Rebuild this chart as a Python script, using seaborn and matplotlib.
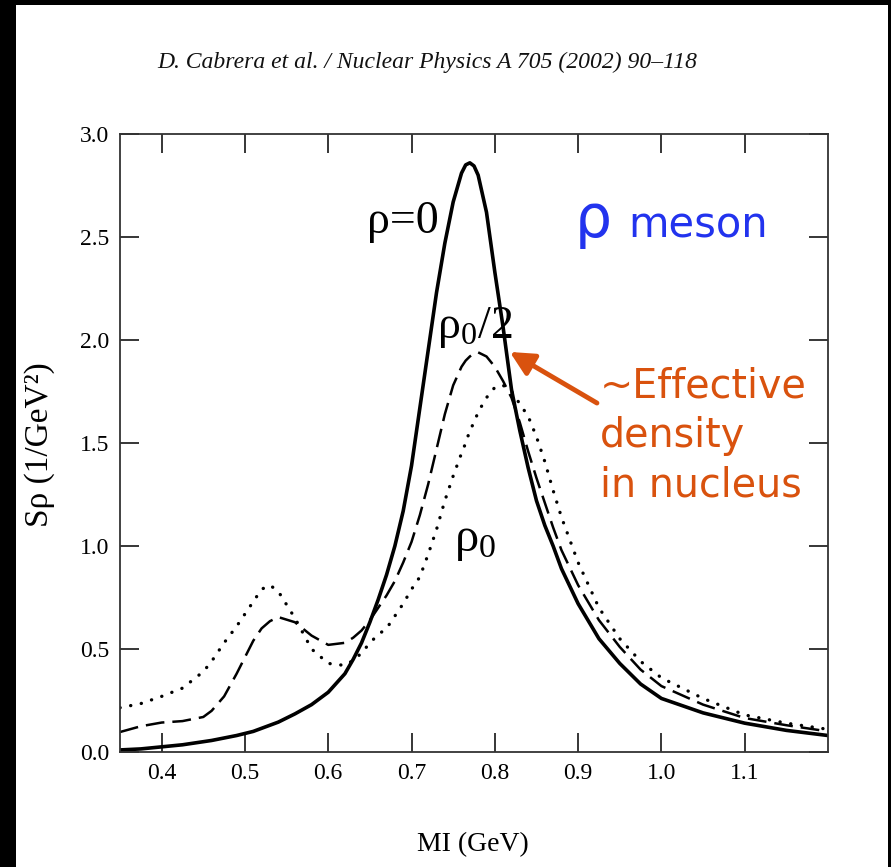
import numpy as np
import pandas as pd
import matplotlib
matplotlib.use("Agg")
import matplotlib.pyplot as plt
import seaborn as sns
from matplotlib.patches import Rectangle

# ---- data ----
mass = [0.35, 0.375, 0.40, 0.425, 0.45, 0.46, 0.475, 0.49, 0.50, 0.51, 0.52, 0.53,
        0.54, 0.56, 0.58, 0.60, 0.62, 0.63, 0.64, 0.65, 0.66, 0.67, 0.68, 0.69, 0.70,
        0.71, 0.72, 0.73, 0.74, 0.75, 0.76, 0.765, 0.77, 0.775, 0.78, 0.79, 0.80,
        0.81, 0.82, 0.83, 0.84, 0.85, 0.86, 0.87, 0.88, 0.90, 0.925, 0.95, 0.975,
        1.00, 1.05, 1.10, 1.15, 1.20]

# rho = 0 (solid)
spec_vacuum = [0.010, 0.015, 0.025, 0.035, 0.050, 0.056, 0.068, 0.080, 0.090, 0.100,
               0.115, 0.130, 0.145, 0.185, 0.230, 0.290, 0.380, 0.450, 0.530, 0.630,
               0.740, 0.860, 1.000, 1.170, 1.390, 1.670, 1.950, 2.230, 2.470, 2.670,
               2.810, 2.850, 2.860, 2.845, 2.800, 2.620, 2.330, 2.060, 1.760, 1.560,
               1.380, 1.220, 1.100, 1.000, 0.890, 0.720, 0.550, 0.430, 0.330, 0.260,
               0.190, 0.140, 0.105, 0.080]

# rho0 / 2 (dashed)
spec_half = [0.097, 0.125, 0.143, 0.150, 0.170, 0.200, 0.270, 0.380, 0.460, 0.540,
             0.600, 0.635, 0.655, 0.630, 0.565, 0.520, 0.530, 0.555, 0.590, 0.640,
             0.700, 0.760, 0.830, 0.920, 1.020, 1.150, 1.300, 1.470, 1.640, 1.780,
             1.870, 1.900, 1.920, 1.935, 1.940, 1.920, 1.870, 1.800, 1.720, 1.600,
             1.460, 1.330, 1.210, 1.090, 0.980, 0.810, 0.640, 0.510, 0.400, 0.320,
             0.230, 0.165, 0.130, 0.100]

# rho0 (dotted)
spec_full = [0.215, 0.235, 0.270, 0.310, 0.390, 0.440, 0.530, 0.610, 0.670, 0.730,
             0.790, 0.810, 0.780, 0.650, 0.500, 0.430, 0.420, 0.445, 0.480, 0.530,
             0.570, 0.600, 0.660, 0.720, 0.790, 0.850, 0.960, 1.080, 1.220, 1.340,
             1.450, 1.500, 1.560, 1.600, 1.650, 1.720, 1.770, 1.780, 1.750, 1.690,
             1.630, 1.530, 1.410, 1.270, 1.140, 0.920, 0.700, 0.550, 0.440, 0.360,
             0.260, 0.180, 0.140, 0.110]

x_ticks = [0.4, 0.5, 0.6, 0.7, 0.8, 0.9, 1.0, 1.1]
x_ticklabels = ["0.4", "0.5", "0.6", "0.7", "0.8", "0.9", "1.0", "1.1"]
y_ticks = [0.0, 0.5, 1.0, 1.5, 2.0, 2.5, 3.0]
y_ticklabels = ["0.0", "0.5", "1.0", "1.5", "2.0", "2.5", "3.0"]

df = pd.DataFrame({"m": mass, "vac": spec_vacuum, "half": spec_half, "full": spec_full})

# ---- figure ----
sns.set_theme(style="white")
plt.rcParams["font.family"] = ["Liberation Serif", "DejaVu Serif"]
plt.rcParams["mathtext.fontset"] = "custom"
plt.rcParams["mathtext.rm"] = "Liberation Serif"
plt.rcParams["mathtext.it"] = "Liberation Serif:italic"
plt.rcParams["text.color"] = "black"
plt.rcParams["axes.labelcolor"] = "black"

W, H = 891, 867
fig = plt.figure(figsize=(W / 100, H / 100), dpi=100, facecolor="black")
fig.patches.append(Rectangle((16 / W, 0), (888 - 16) / W, (H - 5) / H,
                             transform=fig.transFigure, facecolor="white",
                             edgecolor="none", zorder=-10))

ax = fig.add_axes([120 / W, 1 - 752 / H, (828 - 120) / W, (752 - 134) / H])
ax.set_facecolor("white")
ax.set_zorder(5)

sns.lineplot(data=df, x="m", y="vac", ax=ax, color="black", lw=2.6, sort=False)
sns.lineplot(data=df, x="m", y="half", ax=ax, color="black", lw=1.8, sort=False)
ax.lines[-1].set_dashes((7.5, 3.2))
sns.lineplot(data=df, x="m", y="full", ax=ax, color="black", lw=2.4, sort=False)
ax.lines[-1].set_dashes((0.05, 3.2))
ax.lines[-1].set_dash_capstyle("round")
for ln in ax.lines:
    ln.set_solid_joinstyle("round")

ax.set_xlim(0.35, 1.2)
ax.set_ylim(0.0, 3.0)
ax.set_xticks(x_ticks)
ax.set_xticklabels(x_ticklabels)
ax.set_yticks(y_ticks)
ax.set_yticklabels(y_ticklabels)
ax.tick_params(axis="both", which="major", direction="in", length=14, width=1.1,
               top=True, right=True, bottom=True, left=True, labelsize=17,
               colors="black", pad=8)
for s in ax.spines.values():
    s.set_visible(True)
    s.set_color("#333333")
    s.set_linewidth(1.3)

ax.set_xlabel("MI (GeV)", fontsize=20)
ax.set_ylabel("S\u03c1 (1/GeV\u00b2)", fontsize=24)
ax.xaxis.set_label_coords((473 - 120) / 708, -(845 - 752) / 618)
ax.yaxis.set_label_coords(-(120 - 40) / 708, (752 - 445) / 618)
ax.xaxis.label.set_va("center")
ax.yaxis.label.set_va("center")

fig.text(427 / W, 1 - 62 / H, "D. Cabrera et al. / Nuclear Physics A 705 (2002) 90\u2013118",
         ha="center", va="center", fontsize=17, style="italic", color="#111111")

# curve labels
ax.text(0.6465, 2.52, "\u03c1=0", fontsize=33, ha="left", va="baseline")
ax.text(0.730, 2.01, r"$\mathregular{\rho_0/2}$", fontsize=33, ha="left", va="baseline")
ax.text(0.751, 0.975, r"$\mathregular{\rho_0}$", fontsize=35, ha="left", va="baseline")

# rho meson
ax.text(0.8962, 2.50, "\u03c1", fontsize=42, color="#2233ee", ha="left", va="baseline",
        family="DejaVu Sans")
ax.text(0.9598, 2.50, "meson", fontsize=30, color="#2233ee", ha="left", va="baseline",
        family="DejaVu Sans")

# annotation
orange = "#d9520e"
ax.text(0.926, 1.238, "~Effective\ndensity\nin nucleus", fontsize=28.5, color=orange,
        family="DejaVu Sans", ha="left", va="baseline", linespacing=1.31)
ax.annotate("", xy=(0.818, 1.942), xytext=(0.9226, 1.694),
            arrowprops=dict(arrowstyle="-|>", color=orange, lw=3.5, mutation_scale=36,
                            shrinkA=0, shrinkB=0))

fig.savefig("out.png", dpi=100, facecolor="black")
